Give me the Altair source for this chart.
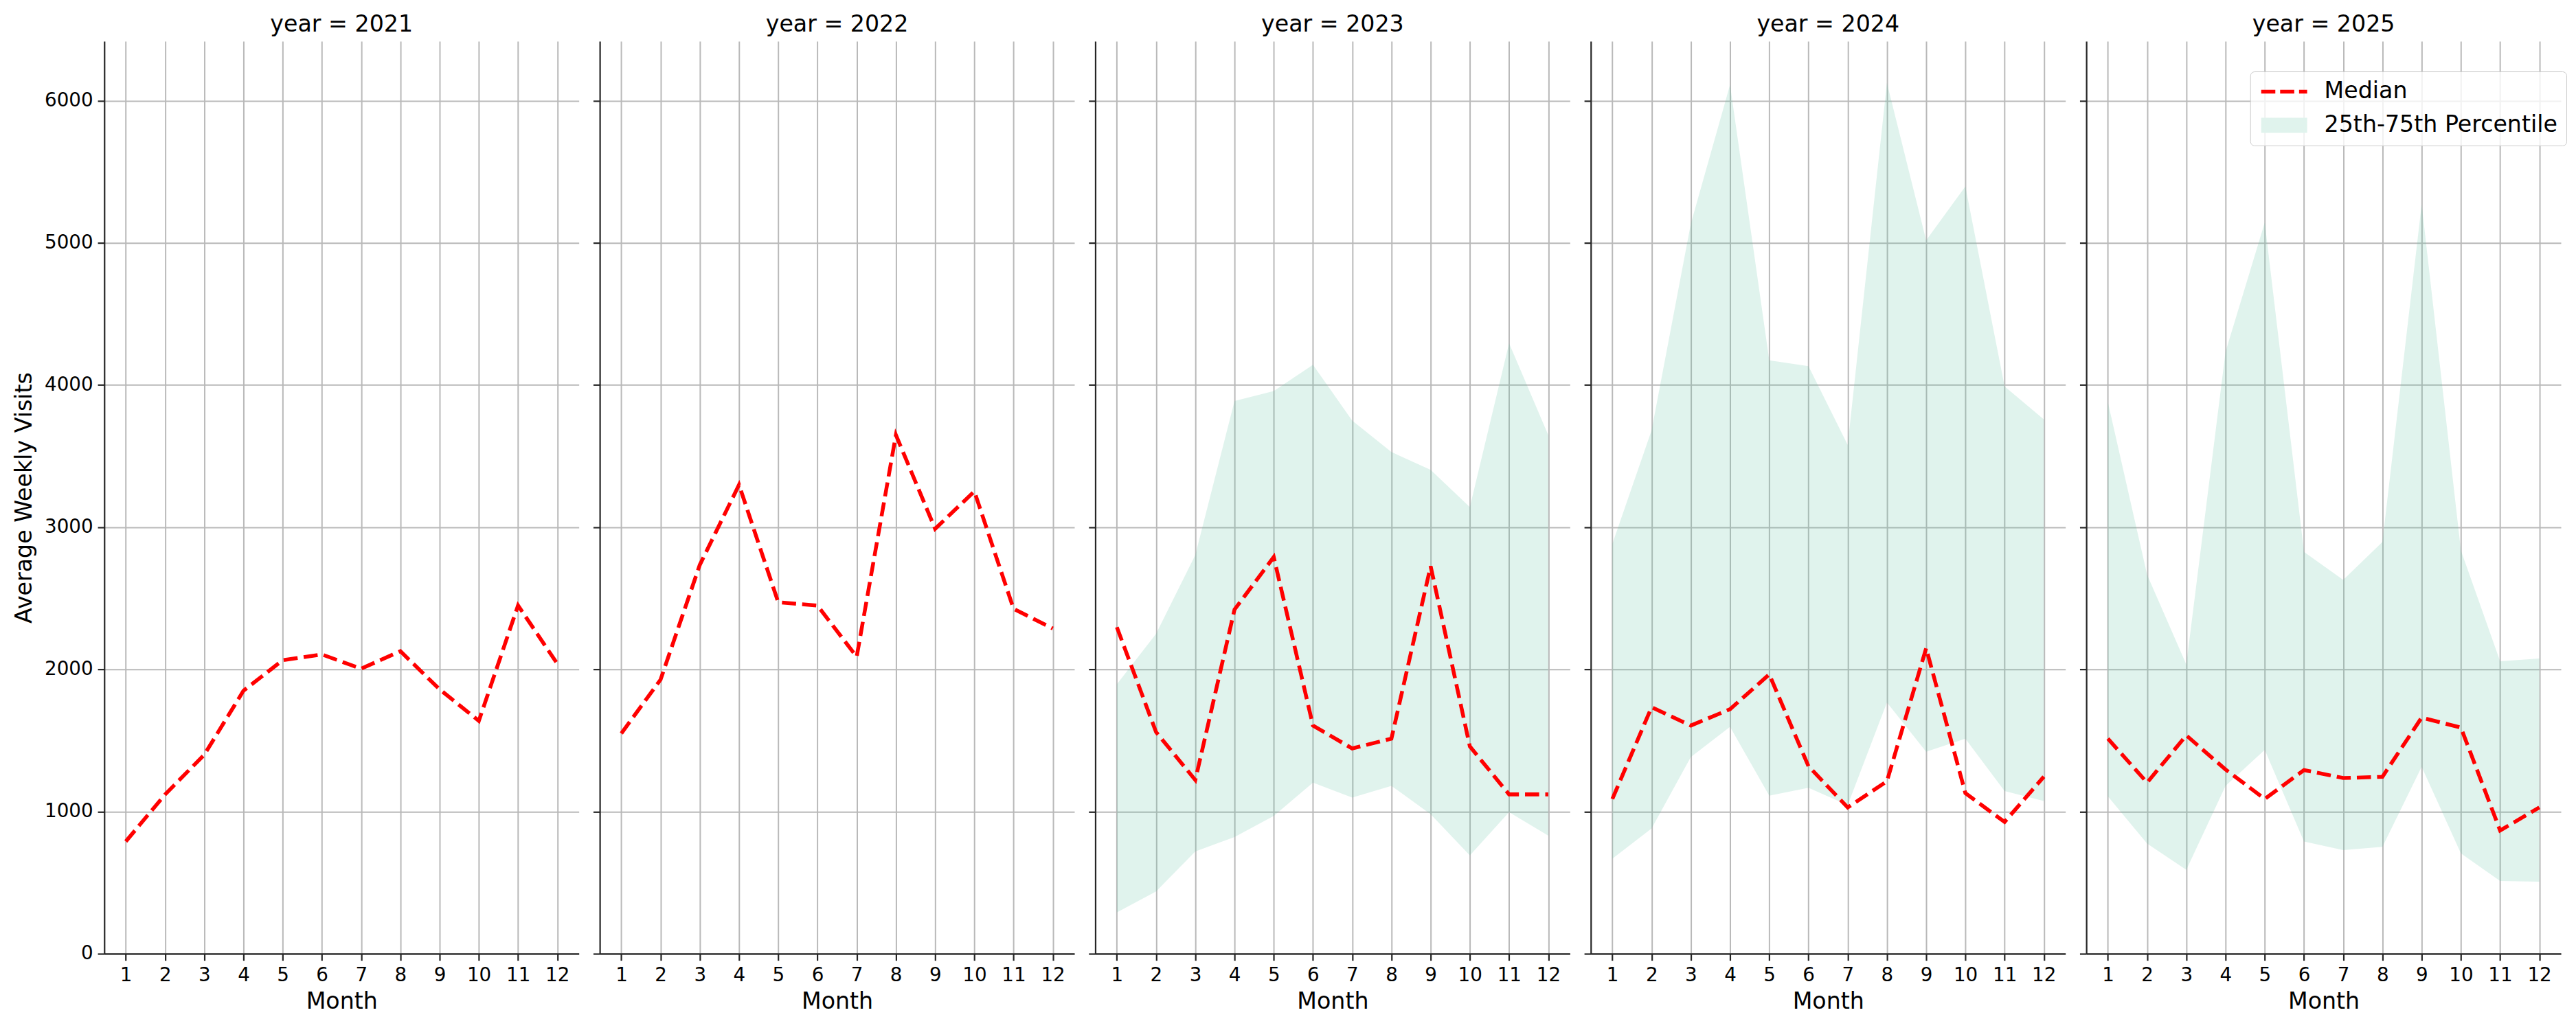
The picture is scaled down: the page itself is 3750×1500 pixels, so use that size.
import altair as alt
import pandas as pd

years = [2021, 2022, 2023, 2024, 2025]
months = list(range(1, 13))

median_2021 = [790, 1120, 1400, 1850, 2065, 2105, 2005, 2128, 1860, 1638, 2450, 2040]
median_2022 = [1550, 1928, 2735, 3298, 2472, 2449, 2089, 3649, 2989, 3252, 2426, 2288]
median_2023 = [2297, 1559, 1222, 2421, 2790, 1605, 1444, 1513, 2726, 1458, 1121, 1121]
median_2024 = [1089, 1734, 1605, 1720, 1965, 1319, 1029, 1213, 2149, 1130, 927, 1245]
median_2025 = [1513, 1204, 1536, 1296, 1089, 1292, 1236, 1245, 1661, 1591, 867, 1029]

p25_2023 = [291, 438, 720, 821, 969, 1204, 1098, 1181, 982, 692, 996, 830]
p75_2023 = [1896, 2251, 2805, 3888, 3958, 4142, 3750, 3529, 3404, 3141, 4294, 3648]
p25_2024 = [669, 881, 1384, 1596, 1112, 1167, 1045, 1767, 1421, 1513, 1144, 1075]
p75_2024 = [2883, 3681, 5134, 6112, 4174, 4133, 3579, 6125, 5018, 5397, 3990, 3759]
p25_2025 = [1107, 775, 590, 1181, 1434, 789, 729, 752, 1315, 706, 512, 507]
p75_2025 = [3879, 2666, 2034, 4234, 5143, 2827, 2629, 2897, 5272, 2837, 2057, 2076]

medians = {2021: median_2021, 2022: median_2022, 2023: median_2023,
           2024: median_2024, 2025: median_2025}
bands = {2023: (p25_2023, p75_2023), 2024: (p25_2024, p75_2024),
         2025: (p25_2025, p75_2025)}

series_names = ["Median", "25th-75th Percentile"]
legend_colors = ["#ff0000", "#e0f3ed"]
BAND_COLOR = "#66c2a5"

FONT = "DejaVu Sans"
TICK_FS = 27.8
LABEL_FS = 33.3
PANEL_W = 692
PANEL_H = 1331

color_scale = alt.Scale(domain=series_names, range=legend_colors)

IS_MED = "datum.value === 'Median'"
legend_spec = alt.Legend(
    title=None,
    orient="none",
    legendX=239,
    legendY=44,
    labelFont=FONT,
    labelFontSize=LABEL_FS,
    labelColor="black",
    labelOffset=22,
    labelLimit=1000,
    symbolSize=4489,
    symbolType={"expr": IS_MED + " ? 'M-1,0H1' : 'M-0.918,-0.246H0.918V0.246H-0.918Z'"},
    symbolStrokeWidth=5.5,
    symbolDash={"expr": IS_MED + " ? [20.6, 7] : [1, 0]"},
    symbolFillColor={"expr": IS_MED + " ? 'transparent' : '#e0f3ed'"},
    symbolOpacity=1,
    clipHeight=33,
    padding=13,
    rowPadding=15,
    strokeColor="#cccccc",
    fillColor="rgba(255,255,255,0.8)",
    cornerRadius=6,
)

x_scale = alt.Scale(domain=[0.45, 12.55], nice=False, zero=False)
y_scale = alt.Scale(domain=[0, 6418], nice=False)

panels = []
for i, yr in enumerate(years):
    line_df = pd.DataFrame({"month": months, "value": medians[yr],
                            "series": ["Median"] * 12})
    first = i == 0
    last = i == len(years) - 1
    y_axis = alt.Axis(
        values=[0, 1000, 2000, 3000, 4000, 5000, 6000],
        labels=first,
        title="Average Weekly Visits" if first else None,
        format="d",
    )
    x_axis = alt.Axis(values=months, format="d", title="Month")
    leg = legend_spec if last else None

    line = alt.Chart(line_df).mark_line(strokeCap="butt").encode(
        x=alt.X("month:Q", scale=x_scale, axis=x_axis),
        y=alt.Y("value:Q", scale=y_scale, axis=y_axis),
        color=alt.Color("series:N", scale=color_scale, legend=leg),
        strokeDash=alt.value([20.6, 8.9]),
        strokeWidth=alt.value(5.56),
    )
    layers = []
    if yr in bands:
        lo, hi = bands[yr]
        band_df = pd.DataFrame({"month": months, "lower": lo, "upper": hi})
        area = alt.Chart(band_df).mark_area(color=BAND_COLOR, opacity=0.2).encode(
            x=alt.X("month:Q", scale=x_scale, axis=x_axis),
            y=alt.Y("lower:Q", scale=y_scale, axis=y_axis),
            y2="upper:Q",
        )
        layers.append(area)
    layers.append(line)
    panel = alt.layer(*layers).properties(
        width=PANEL_W,
        height=PANEL_H,
        title=alt.TitleParams(
            f"year = {yr}", font=FONT, fontSize=LABEL_FS, fontWeight="normal",
            color="black", anchor="middle", baseline="bottom", offset=-26,
        ),
    )
    panels.append(panel)

chart = alt.hconcat(*panels, spacing=19.5).resolve_legend(
    color="independent"
).resolve_scale(color="shared").properties(
    padding={"left": 10, "top": 9, "right": 5, "bottom": 5}
).configure_view(stroke=None).configure_axis(
    labelFont=FONT,
    labelFontSize=TICK_FS,
    labelColor="black",
    titleFont=FONT,
    titleFontSize=LABEL_FS,
    titleFontWeight="normal",
    titleColor="black",
    domainColor="#262626",
    domainWidth=2.2,
    tickColor="#262626",
    tickWidth=2.2,
    tickSize=9.7,
    grid=True,
    gridColor="#b9b9b9",
    gridWidth=2,
    labelFlush=False,
    labelOverlap=False,
).configure_axisX(
    labelPadding=7.6, titlePadding=9,
).configure_axisY(
    labelPadding=7, titlePadding=12,
)

chart.save("out.html", embed_options={"renderer": "svg", "actions": False})
